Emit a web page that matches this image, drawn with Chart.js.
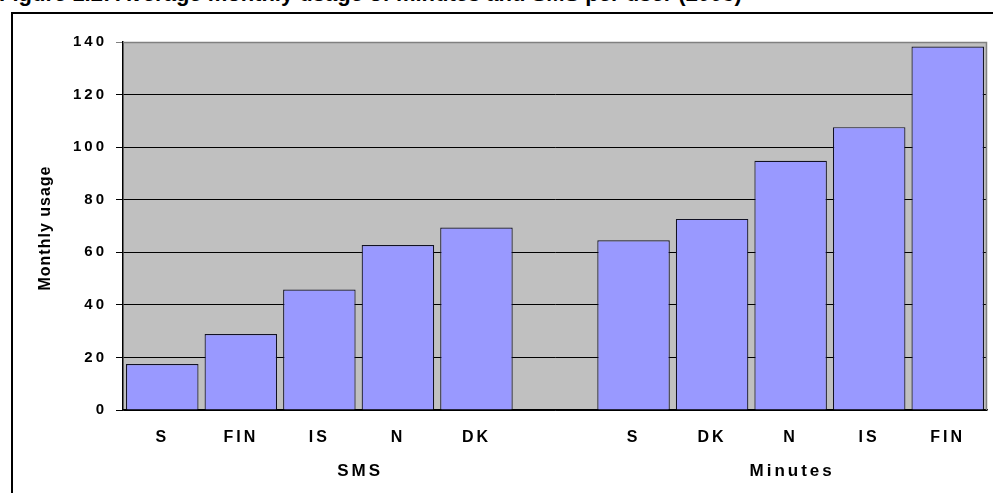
<!DOCTYPE html>
<html>
<head>
<meta charset="utf-8">
<script src="https://cdn.jsdelivr.net/npm/chart.js@4/dist/chart.umd.min.js"></script>
<style>
  html, body { margin: 0; padding: 0; background: #fff; overflow: hidden; }
  #wrap { position: relative; width: 993px; height: 493px; }
  #title { position: absolute; left: -1px; top: -19px; font: bold 22px "Liberation Sans", Arial, sans-serif; color: #000; white-space: nowrap; }
  canvas { position: absolute; left: 0; top: 0; }
</style>
</head>
<body>
<div id="wrap">
  <div id="title">Figure 1.2: Average monthly usage of minutes and SMS per user (2003)</div>
  <canvas id="c" width="993" height="493"></canvas>
</div>
<script>
const groupNames = ['SMS', 'Minutes'];
const smsCountries = ['S', 'FIN', 'IS', 'N', 'DK'];
const smsValues = [17.5, 28.9, 45.8, 62.8, 69.4];
const minutesCountries = ['S', 'DK', 'N', 'IS', 'FIN'];
const minutesValues = [64.6, 72.7, 94.8, 107.6, 138.3];
const yTicks = [0, 20, 40, 60, 80, 100, 120, 140];
const yTitle = 'Monthly usage';

// combined category axis with one empty slot separating the groups
const labels = [...smsCountries, '', ...minutesCountries];
const values = [...smsValues, null, ...minutesValues];
const groupRanges = [[0, smsCountries.length], [smsCountries.length + 1, labels.length - 1]];

const FONT = '"Liberation Sans", Arial, sans-serif';

const decor = {
  id: 'decor',
  beforeDraw(chart) {
    const ctx = chart.ctx, a = chart.chartArea;
    ctx.letterSpacing = '3px';
    ctx.save();
    ctx.fillStyle = '#C0C0C0';
    ctx.fillRect(a.left, a.top, a.right - a.left, a.bottom - a.top);
    ctx.restore();
  },
  beforeDatasetsDraw(chart) {
    const ctx = chart.ctx, a = chart.chartArea;
    ctx.save();
    ctx.strokeStyle = '#808080';
    ctx.lineWidth = 1.5;
    ctx.beginPath();
    ctx.moveTo(a.left, a.top + 0.5);
    ctx.lineTo(a.right - 0.5, a.top + 0.5);
    ctx.lineTo(a.right - 0.5, a.bottom);
    ctx.stroke();
    ctx.restore();
  },
  afterDraw(chart) {
    const ctx = chart.ctx, x = chart.scales.x;
    ctx.save();
    // outer frame
    ctx.strokeStyle = '#000';
    ctx.lineWidth = 2;
    ctx.strokeRect(12, 13, 1100, 1100);
    // group labels
    ctx.fillStyle = '#000';
    ctx.font = 'bold 17px ' + FONT;
    ctx.letterSpacing = '3px';
    ctx.textAlign = 'center';
    ctx.textBaseline = 'middle';
    groupRanges.forEach((r, i) => {
      const cx = (x.getPixelForValue(r[0]) + x.getPixelForValue(r[1])) / 2;
      ctx.fillText(groupNames[i], cx + 1.5, 471);
    });
    // y axis title
    ctx.letterSpacing = '1px';
    ctx.font = 'bold 16px ' + FONT;
    ctx.translate(46, 228);
    ctx.rotate(-Math.PI / 2);
    ctx.fillText(yTitle, 0, 0);
    ctx.restore();
  }
};

new Chart(document.getElementById('c'), {
  type: 'bar',
  data: {
    labels: labels,
    datasets: [{
      data: values,
      backgroundColor: '#9999FF',
      borderColor: '#111122',
      borderWidth: 1.2,
      barPercentage: 0.923,
      categoryPercentage: 1.0
    }]
  },
  options: {
    responsive: false,
    animation: false,
    devicePixelRatio: 1,
    layout: { padding: { top: 42, right: 6, left: 0, bottom: 0 } },
    plugins: { legend: { display: false }, tooltip: { enabled: false }, title: { display: false } },
    scales: {
      x: {
        grid: { display: true, drawOnChartArea: false, drawTicks: false },
        border: { display: true, color: '#000', width: 1.5 },
        ticks: { color: '#000', font: { family: FONT, size: 16, weight: 'bold' }, padding: 18, maxRotation: 0, autoSkip: false },
        afterFit(s) { s.height = 83; }
      },
      y: {
        min: 0, max: 140,
        afterBuildTicks(s) { s.ticks = yTicks.map(v => ({ value: v })); },
        grid: {
          color: (c) => (c.tick && c.tick.value === 140 ? '#808080' : '#000'),
          lineWidth: 1,
          tickLength: 7,
          drawTicks: true
        },
        border: { display: true, color: '#000', width: 1.5 },
        ticks: { color: '#000', font: { family: FONT, size: 15, weight: 'bold' }, padding: 9 },
        afterFit(s) { s.width = 123; }
      }
    }
  },
  plugins: [decor]
});
</script>
</body>
</html>
